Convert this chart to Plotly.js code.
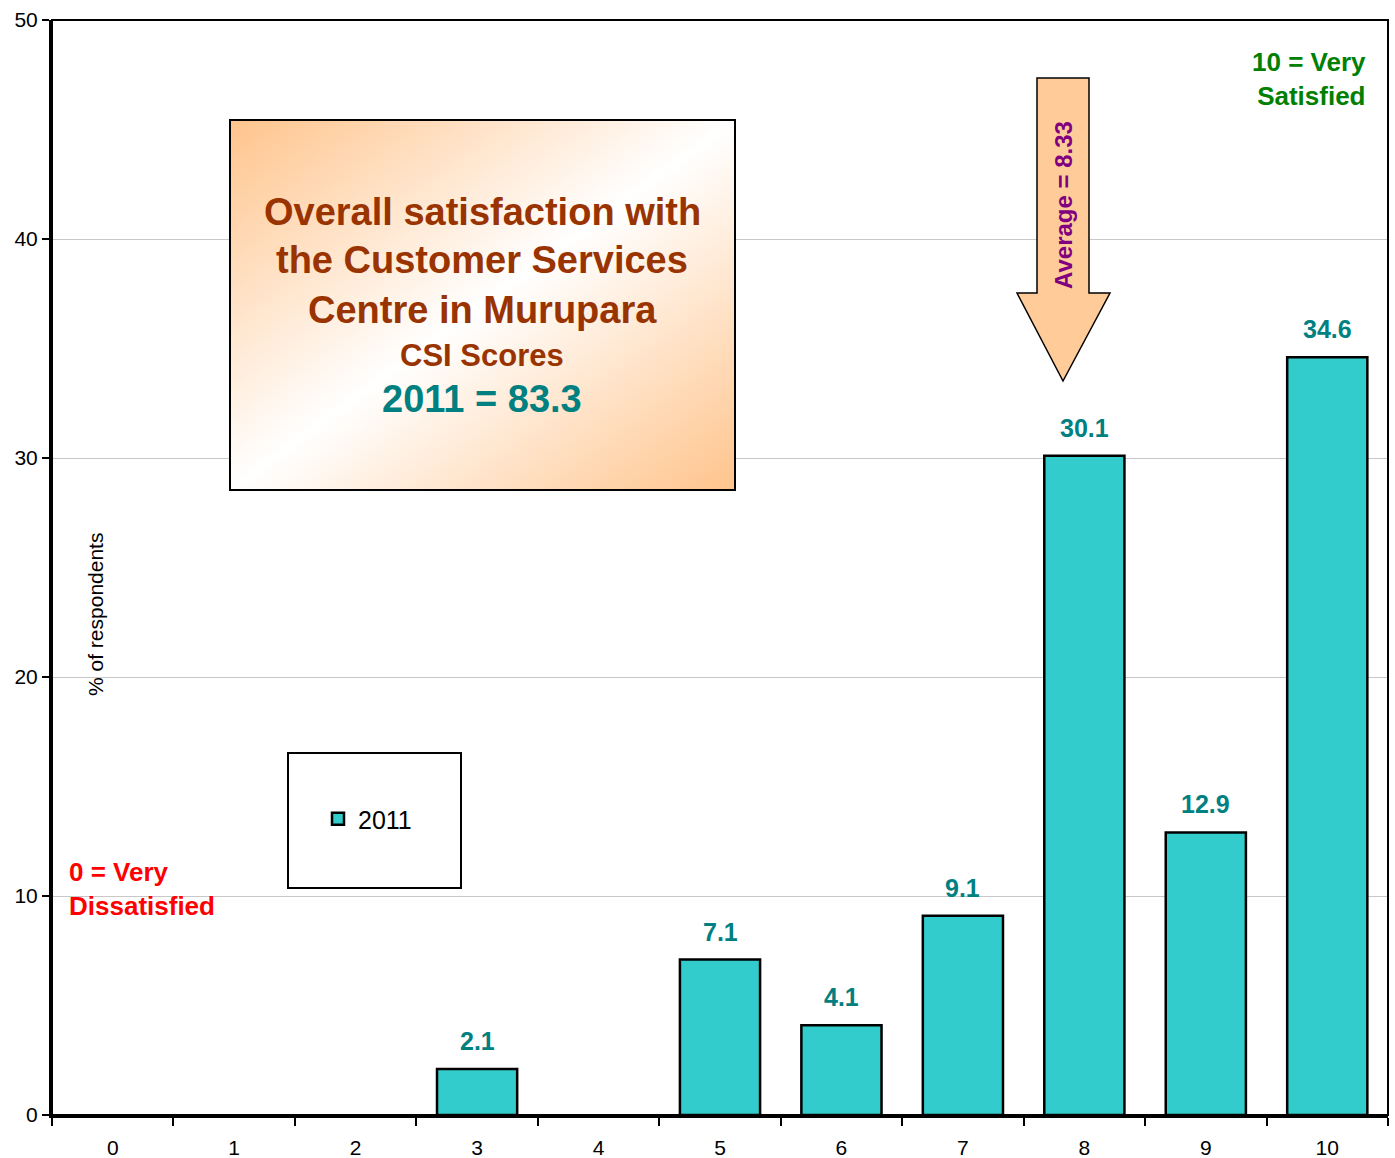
<!DOCTYPE html>
<html>
<head>
<meta charset="utf-8">
<script src="https://cdn.plot.ly/plotly-3.0.1.min.js"></script>
<style>html,body{margin:0;padding:0;background:#fff;}#chart{width:1395px;height:1158px;}</style>
</head>
<body>
<div id="chart"></div>
<script>
// ---- data ----
const scores = ['0','1','2','3','4','5','6','7','8','9','10'];
const pct2011 = [null, null, null, 2.1, null, 7.1, 4.1, 9.1, 30.1, 12.9, 34.6];
const seriesName = '2011';
const yTicks = [0, 10, 20, 30, 40, 50];
const titleLines = ['Overall satisfaction with', 'the Customer Services', 'Centre in Murupara'];
const subTitle = 'CSI Scores';
const csiText = '2011 = 83.3';
const averageText = 'Average = 8.33';
const highText = '10 = Very<br>Satisfied';
const lowText = '0 = Very<br>Dissatisfied';
const yTitle = '% of respondents';

const FONT = 'Liberation Sans, Arial, sans-serif';
const W = 1395, H = 1158;
const L = 52, R = 1388, T = 20, B = 1115;
const px = v => (v - L) / (R - L);
const py = v => (B - v) / (B - T);

const svg = '<svg xmlns="http://www.w3.org/2000/svg" width="507" height="372" viewBox="0 0 507 372" preserveAspectRatio="none">' +
  '<defs><linearGradient id="g" x1="0" y1="0" x2="1" y2="1">' +
  '<stop offset="0" stop-color="#FFC48C"/><stop offset="0.5" stop-color="#FFFFFF"/><stop offset="1" stop-color="#FFC48C"/>' +
  '</linearGradient></defs>' +
  '<rect x="1" y="1" width="505" height="370" fill="url(#g)" stroke="#000" stroke-width="2"/></svg>';
const svgUri = 'data:image/svg+xml;charset=utf-8,' + encodeURIComponent(svg);

const trace = {
  type: 'bar',
  x: scores,
  y: pct2011,
  name: seriesName,
  marker: {color: '#33CCCC', line: {color: '#000000', width: 2.5}},
  hoverinfo: 'x+y',
  showlegend: true
};

const annotations = [];
scores.forEach((s, i) => {
  if (pct2011[i] !== null) {
    annotations.push({
      x: s, y: pct2011[i], xref: 'x', yref: 'y',
      text: pct2011[i].toFixed(1), showarrow: false,
      yanchor: 'middle', yshift: 28,
      font: {family: FONT, size: 25, color: '#008080', weight: 'bold'}
    });
  }
});

const titleYs = [212, 260, 310];
titleLines.forEach((t, i) => {
  annotations.push({
    xref: 'paper', yref: 'paper', x: px(482), y: py(titleYs[i]),
    xanchor: 'center', yanchor: 'middle', showarrow: false, text: t,
    font: {family: FONT, size: 38, color: '#993300', weight: 'bold'}
  });
});
annotations.push({
  xref: 'paper', yref: 'paper', x: px(482), y: py(355),
  xanchor: 'center', yanchor: 'middle', showarrow: false, text: subTitle,
  font: {family: FONT, size: 31, color: '#993300', weight: 'bold'}
});
annotations.push({
  xref: 'paper', yref: 'paper', x: px(482), y: py(399),
  xanchor: 'center', yanchor: 'middle', showarrow: false, text: csiText,
  font: {family: FONT, size: 38, color: '#008080', weight: 'bold'}
});
annotations.push({
  xref: 'paper', yref: 'paper', x: px(1063), y: py(205),
  xanchor: 'center', yanchor: 'middle', showarrow: false, text: averageText,
  textangle: -90,
  font: {family: FONT, size: 24, color: '#800080', weight: 'bold'}
});
annotations.push({
  xref: 'paper', yref: 'paper', x: px(1368), y: py(79),
  xanchor: 'right', yanchor: 'middle', align: 'right', showarrow: false, text: highText,
  font: {family: FONT, size: 26, color: '#008000', weight: 'bold'}
});
annotations.push({
  xref: 'paper', yref: 'paper', x: px(67), y: py(889),
  xanchor: 'left', yanchor: 'middle', align: 'left', showarrow: false, text: lowText,
  font: {family: FONT, size: 26, color: '#FF0000', weight: 'bold'}
});
annotations.push({
  xref: 'paper', yref: 'paper', x: px(95), y: py(615),
  xanchor: 'center', yanchor: 'middle', showarrow: false, text: yTitle,
  textangle: -90,
  font: {family: FONT, size: 21, color: '#000000'}
});

const arrowPath = 'M' + px(1037) + ',' + py(78) + ' L' + px(1089) + ',' + py(78) +
  ' L' + px(1089) + ',' + py(293) + ' L' + px(1110) + ',' + py(293) +
  ' L' + px(1063) + ',' + py(381) + ' L' + px(1017) + ',' + py(293) +
  ' L' + px(1037) + ',' + py(293) + ' Z';

const layout = {
  width: W, height: H,
  margin: {l: L, r: W - R, t: T, b: H - B, pad: 0},
  paper_bgcolor: '#ffffff',
  plot_bgcolor: '#ffffff',
  font: {family: FONT, size: 21, color: '#000000'},
  bargap: 0.34,
  xaxis: {
    type: 'category',
    categoryorder: 'array', categoryarray: scores,
    range: [-0.5, 10.5],
    tickson: 'boundaries',
    ticks: 'outside', ticklen: 8, tickwidth: 2, tickcolor: '#000',
    ticklabelstandoff: 12,
    showline: true, linewidth: 3, linecolor: '#000',
    showgrid: false, zeroline: false,
    tickfont: {family: FONT, size: 21, color: '#000'},
    fixedrange: true
  },
  yaxis: {
    range: [0, 50],
    tickvals: yTicks,
    ticks: 'outside', ticklen: 7, tickwidth: 2, tickcolor: '#000',
    showline: true, linewidth: 3, linecolor: '#000',
    showgrid: true, gridcolor: '#C8C8C8', gridwidth: 1,
    zeroline: false,
    tickfont: {family: FONT, size: 21, color: '#000'},
    fixedrange: true
  },
  showlegend: true,
  legend: {
    x: px(318), y: py(819), xanchor: 'left', yanchor: 'middle',
    bgcolor: 'rgba(0,0,0,0)', borderwidth: 0,
    font: {family: FONT, size: 25, color: '#000'}
  },
  images: [{
    source: svgUri, xref: 'paper', yref: 'paper',
    x: px(229), y: py(119), sizex: px(736) - px(229), sizey: py(119) - py(491),
    xanchor: 'left', yanchor: 'top', sizing: 'stretch', layer: 'above'
  }],
  shapes: [
    {type: 'rect', xref: 'paper', yref: 'paper', x0: 0, x1: 1, y0: 0, y1: 1,
     line: {color: '#000', width: 2}, fillcolor: 'rgba(0,0,0,0)', layer: 'above'},
    {type: 'rect', xref: 'paper', yref: 'paper', x0: px(288), x1: px(461), y0: py(888), y1: py(753),
     line: {color: '#000', width: 2}, fillcolor: '#ffffff', layer: 'above'},
    {type: 'path', xref: 'paper', yref: 'paper', path: arrowPath,
     line: {color: '#000', width: 1.5}, fillcolor: '#FFCC99', layer: 'above'}
  ],
  annotations: annotations
};

Plotly.newPlot('chart', [trace], layout, {displayModeBar: false, staticPlot: true});
</script>
</body>
</html>
